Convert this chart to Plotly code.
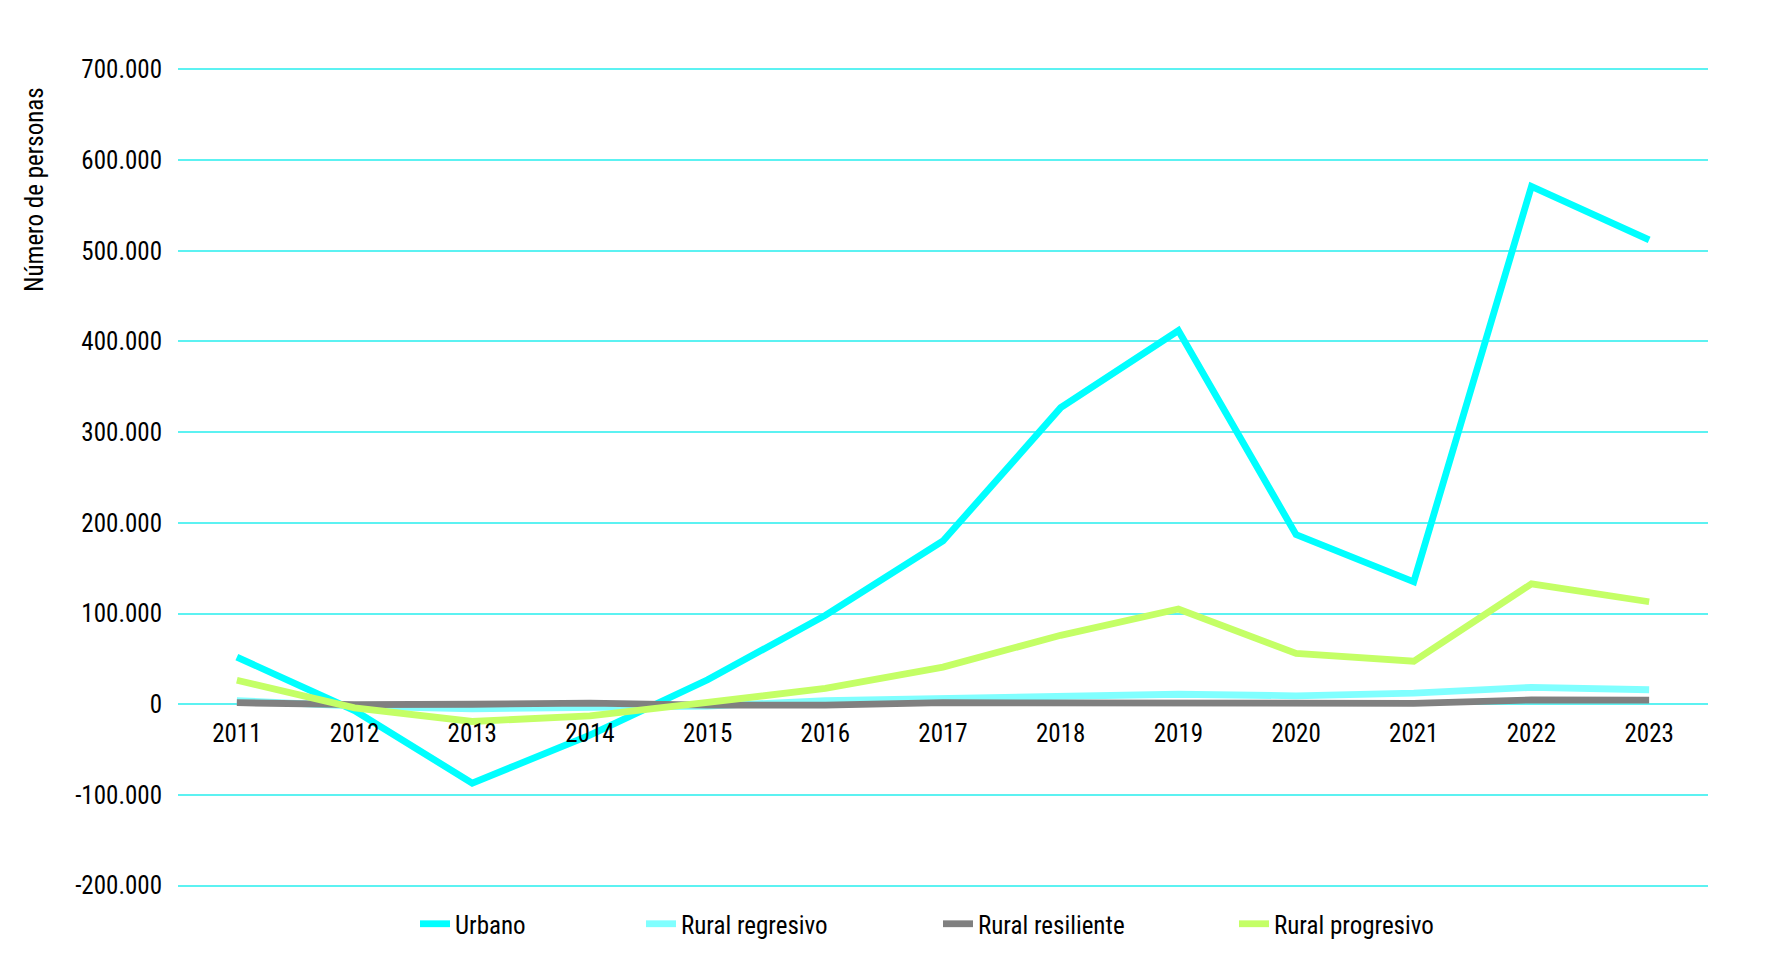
import plotly.graph_objects as go

years = ["2011", "2012", "2013", "2014", "2015", "2016", "2017",
         "2018", "2019", "2020", "2021", "2022", "2023"]

urbano = [52000, -7000, -87000, -34000, 27000, 98000, 180000,
          327000, 412000, 187000, 135000, 571000, 512000]
rural_regresivo = [4000, -2000, -5000, -4000, -2000, 4000, 6500,
                   9000, 11000, 9300, 12300, 18600, 16000]
rural_resiliente = [1700, -500, 0, 1300, -1000, -1000, 1700,
                    1700, 1500, 1100, 1000, 4800, 4600]
rural_progresivo = [26500, -4000, -19000, -12800, 2000, 17400, 41000,
                    76000, 105000, 56000, 47400, 132800, 113000]

series_names = ["Urbano", "Rural regresivo", "Rural resiliente", "Rural progresivo"]
series_values = [urbano, rural_regresivo, rural_resiliente, rural_progresivo]
series_colors = ["#00FFFF", "#80FFFF", "#808080", "#C4FF66"]
legend_ids = ["legend", "legend2", "legend3", "legend4"]

y_tickvals = [-200000, -100000, 0, 100000, 200000, 300000, 400000, 500000, 600000, 700000]
y_ticktext = ["-200.000", "-100.000", "0", "100.000", "200.000", "300.000",
              "400.000", "500.000", "600.000", "700.000"]

FONT = "Roboto Condensed, Liberation Sans Narrow, DejaVu Sans Condensed, Roboto, sans-serif"

fig = go.Figure()
for name, vals, col, lg in zip(series_names, series_values, series_colors, legend_ids):
    fig.add_trace(go.Scatter(
        x=years, y=vals, name=name, mode="lines",
        line=dict(color=col, width=6.8),
        legend=lg,
    ))

# figure sits inside the page body (8px margin)
W, H = 1756, 955
Y0, Y1 = -201500, 701500
ml, mr = 170, 56
mt = 60
ph = 819
mb = H - mt - ph
pw = W - ml - mr

def px_x(p):
    return (p - ml) / pw

def px_y(p):
    return (mt + ph - p) / ph

leg_px = [407, 633, 930, 1226]
layout_legends = {}
for lg, p in zip(legend_ids, leg_px):
    layout_legends[lg] = dict(
        orientation="h", yanchor="middle", xanchor="left",
        x=px_x(p), y=px_y(916),
        font=dict(family=FONT, size=25, color="#000000"),
        bgcolor="rgba(0,0,0,0)",
    )

fig.update_layout(
    width=W, height=H,
    margin=dict(l=ml, r=mr, t=mt, b=mb, pad=0),
    paper_bgcolor="#FFFFFF", plot_bgcolor="#FFFFFF",
    font=dict(family=FONT, size=25, color="#000000"),
    showlegend=True,
    **layout_legends,
)

zero_frac = (0 - Y0) / (Y1 - Y0)

fig.update_xaxes(
    type="category", range=[-0.5, 12.5],
    showgrid=False, zeroline=False, showline=False, ticks="",
    anchor="free", position=zero_frac,
    ticklabelstandoff=12,
    tickfont=dict(family=FONT, size=25, color="#000000"),
)
fig.update_yaxes(
    range=[Y0, Y1], tickvals=y_tickvals, ticktext=y_ticktext,
    showgrid=True, gridcolor="#5CF2F2", gridwidth=1.5,
    zeroline=False, showline=False, ticks="",
    ticklabelstandoff=15,
    tickfont=dict(family=FONT, size=25, color="#000000"),
)

fig.add_annotation(
    text="Número de personas", textangle=-90,
    xref="paper", yref="paper",
    x=px_x(26), y=px_y(182),
    xanchor="center", yanchor="middle", showarrow=False,
    font=dict(family=FONT, size=25, color="#000000"),
)

fig.write_html("out.html")
